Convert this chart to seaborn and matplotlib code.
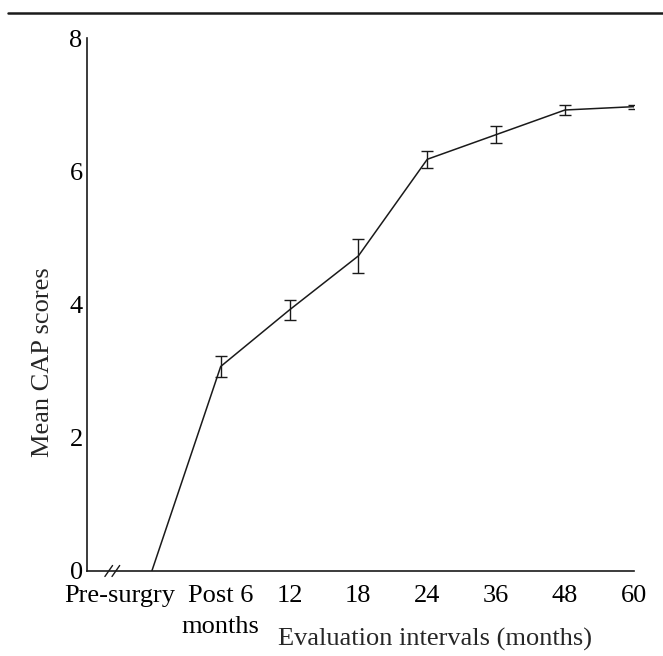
import matplotlib
matplotlib.use("Agg")
import matplotlib.pyplot as plt
from matplotlib.lines import Line2D
import seaborn as sns
import pandas as pd
import numpy as np

categories = ["Pre-surgry", "Post 6\nmonths", "12", "18", "24", "36", "48", "60"]
mean_cap = [0.0, 3.07, 3.92, 4.73, 6.18, 6.55, 6.92, 6.97]
err_cap = [0.0, 0.16, 0.15, 0.25, 0.13, 0.13, 0.08, 0.03]
y_ticks = [0, 2, 4, 6, 8]

sns.set_style("white")
plt.rcParams["font.family"] = ["Liberation Serif", "DejaVu Serif"]
plt.rcParams["font.size"] = 19

df = pd.DataFrame({"pos": np.arange(len(categories)), "mean": mean_cap, "err": err_cap})

fig = plt.figure(figsize=(6.63, 6.56), dpi=100)
ax = fig.add_axes([0.131, 0.1296, 0.825, 0.8124])

sns.lineplot(data=df, x="pos", y="mean", ax=ax, color="#1a1a1a", linewidth=1.1)
sub = df.iloc[1:]
ax.errorbar(sub["pos"], sub["mean"], yerr=sub["err"], fmt="none",
            ecolor="#1a1a1a", elinewidth=1.0, capsize=4, capthick=1.0)

ax.set_xlim(-0.944, 7)
ax.set_ylim(0, 8)
ax.set_yticks(y_ticks)
ax.set_yticklabels([str(t) for t in y_ticks])

tick_pos = [-0.46] + list(range(1, len(categories)))
ax.set_xticks(tick_pos)
ax.set_xticklabels(categories, va="top", linespacing=1.55)
ax.xaxis.get_major_ticks()[0].tick1line.set_visible(False)

ax.tick_params(axis="both", direction="in", length=5, width=1.0, colors="#1a1a1a",
               labelsize=19, labelcolor="black")
ax.tick_params(axis="x", pad=10)
ax.tick_params(axis="y", pad=3)

for s in ["top", "right"]:
    ax.spines[s].set_visible(False)
for s in ["left", "bottom"]:
    ax.spines[s].set_color("#1a1a1a")
    ax.spines[s].set_linewidth(1.2)

ax.set_xlabel("Evaluation intervals (months)", fontsize=19, va="center")
ax.xaxis.set_label_coords(0.637, -0.128)
ax.set_ylabel("Mean CAP scores", fontsize=19, va="center", ha="center")
ax.yaxis.set_label_coords(-0.080, 0.392)

# axis break marks
for x0 in (0.033, 0.046):
    ax.add_line(Line2D([x0, x0 + 0.014], [-0.0103, 0.0103],
                       transform=ax.transAxes, color="#1a1a1a", lw=1.0, clip_on=False))

# top rule
fig.add_artist(Line2D([0.012, 1.0], [1 - 13 / 656, 1 - 13 / 656],
                      transform=fig.transFigure, color="#1a1a1a", lw=1.8))

fig.savefig("out.png", dpi=100)
